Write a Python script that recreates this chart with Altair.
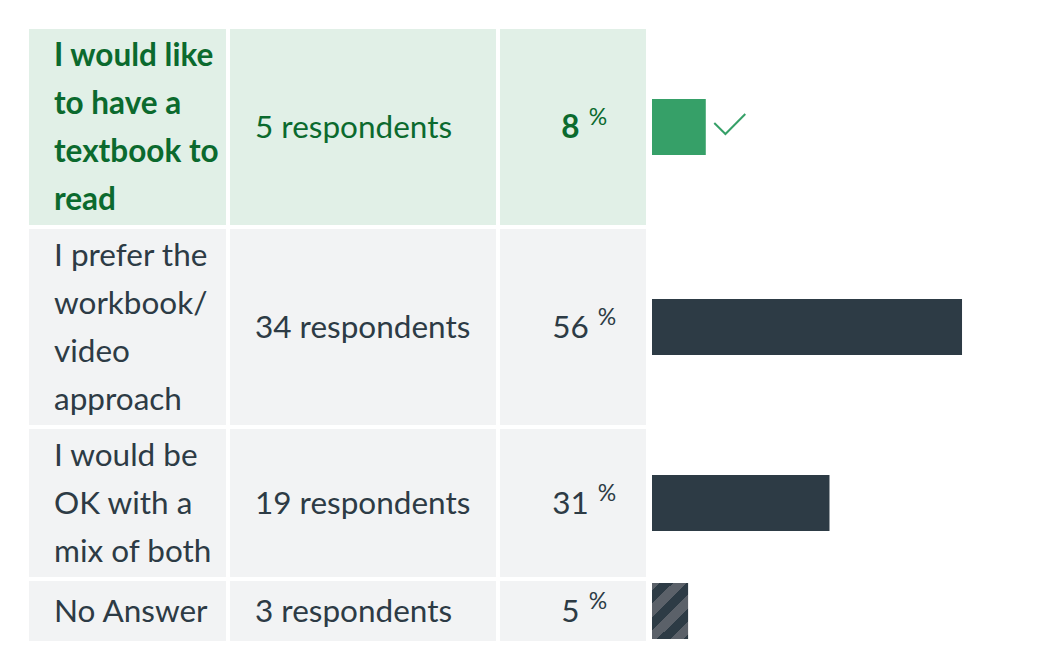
import altair as alt
import pandas as pd

# ---- data ----
answers = [
    "I would like\nto have a\ntextbook to\nread",
    "I prefer the\nworkbook/\nvideo\napproach",
    "I would be\nOK with a\nmix of both",
    "No Answer",
]
respondents = [5, 34, 19, 3]
percent_labels = [8, 56, 31, 5]
is_correct = [True, False, False, False]
is_no_answer = [False, False, False, True]

# ---- styling / layout ----
FONT = "Lato"
FS = 31.5
DARK = "#2d3b45"
GREEN_TEXT = "#0b6a2e"
GREEN_BAR = "#36a068"
GREEN_BG = "#e1f0e7"
GREY_BG = "#f2f3f4"
HATCH_LIGHT = "#5b6169"

M = 8
LINE_H = 48
ROW_GAP = 4
TOP = 29 - M
COLS = [(29 - M, 226 - M), (230 - M, 496 - M), (500 - M, 646 - M)]
BAR_LEFT = 652 - M
BAR_H = 56
PCT_CENTER = 584 - M
DIGIT_W = 18.3
TEXT_DY = 1.5

total = sum(respondents)
rows, cells = [], []
y = TOP
for a, n, p, c, na in zip(answers, respondents, percent_labels, is_correct, is_no_answer):
    nlines = a.count("\n") + 1
    h = max(LINE_H * nlines + 4, 60)
    mid = y + h / 2
    numw = DIGIT_W * len(str(p))
    num_x = PCT_CENTER + (numw - 27) / 2
    rows.append(dict(
        answer=a, label=f"{n} respondents", pct=n / total * 100,
        pct_label=str(p), correct=c, noans=na, mid=mid,
        text_y=mid + TEXT_DY,
        ans_y=mid + TEXT_DY - (nlines - 1) * LINE_H / 2,
        bar_top=mid - BAR_H / 2, bar_bot=mid + BAR_H / 2,
        num_x=num_x, sym_x=num_x + 9,
        txt=GREEN_TEXT if c else DARK,
        bar_color=GREEN_BAR if c else DARK,
    ))
    for x0, x1 in COLS:
        cells.append(dict(x0=x0, x1=x1, y0=y, y1=y + h, bg=GREEN_BG if c else GREY_BG))
    y += h + ROW_GAP

df = pd.DataFrame(rows)
cells_df = pd.DataFrame(cells)

px = lambda f: alt.X(f, scale=None)
py = lambda f: alt.Y(f, scale=None)
bar_scale = alt.Scale(domain=[0, 100], range=[BAR_LEFT + 9.6, BAR_LEFT + 9.6 + 539])

base = alt.Chart(df)

cells_layer = alt.Chart(cells_df).mark_rect().encode(
    x=px("x0:Q"), x2="x1:Q", y=py("y0:Q"), y2="y1:Q",
    color=alt.Color("bg:N", scale=None),
)

def text_layer(filt, weight, **kw):
    return base.transform_filter(filt).mark_text(
        font=FONT, fontSize=FS, fontWeight=weight, baseline="middle", **kw
    )

ans_bold = text_layer("datum.correct", "bold", align="left", lineBreak="\n", lineHeight=LINE_H).encode(
    x=alt.value(54 - M), y=py("ans_y:Q"), text="answer:N", color=alt.Color("txt:N", scale=None))
ans_norm = text_layer("!datum.correct", "normal", align="left", lineBreak="\n", lineHeight=LINE_H).encode(
    x=alt.value(54 - M), y=py("ans_y:Q"), text="answer:N", color=alt.Color("txt:N", scale=None))

resp = base.mark_text(font=FONT, fontSize=FS, align="left", baseline="middle").encode(
    x=alt.value(255 - M), y=py("text_y:Q"), text="label:N", color=alt.Color("txt:N", scale=None))

num_bold = text_layer("datum.correct", "bold", align="right").encode(
    x=px("num_x:Q"), y=py("text_y:Q"), text="pct_label:N", color=alt.Color("txt:N", scale=None))
num_norm = text_layer("!datum.correct", "normal", align="right").encode(
    x=px("num_x:Q"), y=py("text_y:Q"), text="pct_label:N", color=alt.Color("txt:N", scale=None))

pct_sym = base.mark_text(font=FONT, fontSize=23, align="left", baseline="middle", dy=-11).encode(
    x=px("sym_x:Q"), y=py("text_y:Q"), text=alt.value("%"), color=alt.Color("txt:N", scale=None))

bars = base.transform_filter("!datum.noans").mark_rect().encode(
    x=alt.X("pct:Q", scale=bar_scale, axis=None), x2=alt.value(BAR_LEFT),
    y=py("bar_top:Q"), y2="bar_bot:Q",
    color=alt.Color("bar_color:N", scale=None),
)

# hatched "no answer" bar
bounds = [0, 5.4, 14.8, 24.3, 33.7, 43.1, 52.6, 62.0, 65.05]
stripe_cols = [HATCH_LIGHT, DARK] * 4
stops = []
for i, col in enumerate(stripe_cols):
    stops.append(alt.GradientStop(color=col, offset=bounds[i] / 65.05))
    stops.append(alt.GradientStop(color=col, offset=min(bounds[i + 1] / 65.05, 1)))
hatch = alt.LinearGradient(gradient="linear", stops=stops, x1=0, y1=0, x2=0.747, y2=1.163)

na_bar = base.transform_filter("datum.noans").mark_rect(fill=hatch).encode(
    x=alt.X("pct:Q", scale=bar_scale, axis=None), x2=alt.value(BAR_LEFT),
    y=py("bar_top:Q"), y2="bar_bot:Q",
)

check = base.transform_filter("datum.correct").mark_point(
    shape="M-1,-0.06L-0.28,0.65L1,-0.65", filled=False, size=961, strokeWidth=2,
    color=GREEN_BAR, opacity=1, xOffset=24, yOffset=-3,
).encode(
    x=alt.X("pct:Q", scale=bar_scale, axis=None), y=py("mid:Q"),
)

chart = alt.layer(
    cells_layer, ans_bold, ans_norm, resp, num_bold, num_norm, pct_sym, bars, na_bar, check
).properties(
    width=1036, height=654, padding=0, autosize="none", background="white"
).configure_view(stroke=None)

chart.save("out.html", embed_options={"renderer": "svg", "actions": False})
